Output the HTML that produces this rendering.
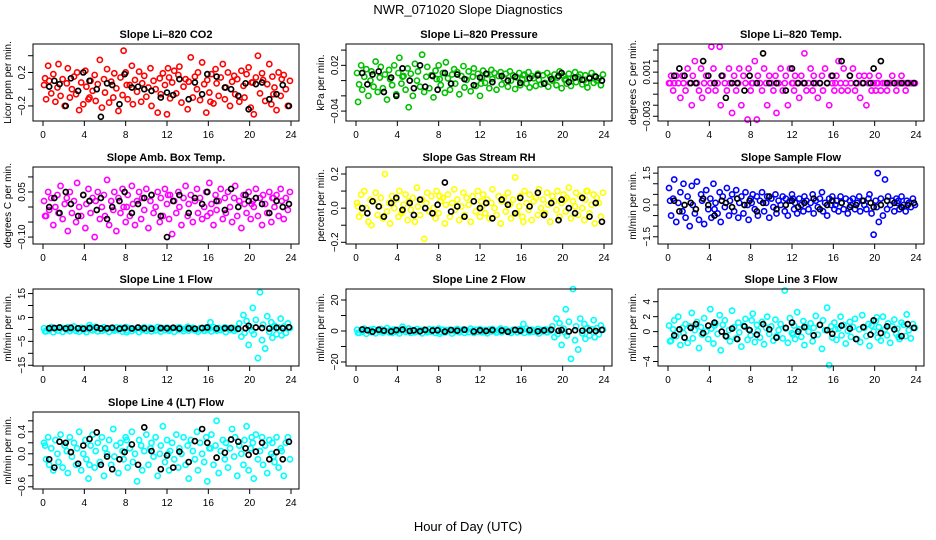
<!DOCTYPE html>
<html><head><meta charset="utf-8"><style>
body{margin:0;background:#fff}
svg{display:block;font-family:"Liberation Sans",sans-serif}
</style></head><body>
<svg id="chart" width="936" height="540" viewBox="0 0 936 540">
<text x="468" y="14" text-anchor="middle" font-size="13">NWR_071020  Slope Diagnostics</text>
<text x="468" y="531" text-anchor="middle" font-size="13">Hour of Day (UTC)</text>
</svg>
<script>
const hours=[0.1,0.3,0.5,0.6,0.8,1.0,1.2,1.4,1.5,1.7,1.9,2.1,2.3,2.4,2.6,2.8,3.0,3.2,3.3,3.5,3.7,3.9,4.1,4.2,4.4,4.6,4.8,5.0,5.1,5.3,5.5,5.7,5.9,6.0,6.2,6.4,6.6,6.8,6.9,7.1,7.3,7.5,7.7,7.8,8.0,8.2,8.4,8.6,8.7,8.9,9.1,9.3,9.5,9.6,9.8,10.0,10.2,10.4,10.5,10.7,10.9,11.1,11.3,11.4,11.6,11.8,12.0,12.2,12.3,12.5,12.7,12.9,13.1,13.2,13.4,13.6,13.8,14.0,14.1,14.3,14.5,14.7,14.9,15.0,15.2,15.4,15.6,15.8,15.9,16.1,16.3,16.5,16.7,16.8,17.0,17.2,17.4,17.6,17.7,17.9,18.1,18.3,18.5,18.6,18.8,19.0,19.2,19.4,19.5,19.7,19.9,20.1,20.3,20.4,20.6,20.8,21.0,21.2,21.3,21.5,21.7,21.9,22.1,22.2,22.4,22.6,22.8,23.0,23.1,23.3,23.5,23.7,23.9,0.2,4.5,8.1,12.1,16.2,20.2,22.3];
const calHours=[0.6,1.1,1.6,2.2,2.7,3.4,3.9,4.5,5.2,5.6,6.2,6.7,7.4,7.9,8.6,9.2,9.8,10.5,11.4,12.0,12.6,13.2,14.1,14.7,15.4,15.9,16.8,17.6,18.2,18.9,19.6,19.9,20.6,21.2,21.9,22.6,23.2,23.8];
const xTicks=[0,4,8,12,16,20,24];

const co2Vals=[0.05,-0.12,0.28,0.1,-0.05,0.18,-0.15,0.02,0.3,-0.08,0.12,-0.2,0.07,0.25,-0.1,0.0,0.15,-0.06,0.2,-0.25,0.08,-0.18,0.22,0.03,-0.12,0.1,-0.02,0.17,-0.14,0.06,0.35,-0.22,0.12,-0.04,0.24,-0.16,0.09,-0.1,0.19,0.01,-0.26,0.14,-0.07,0.46,0.2,-0.12,0.05,0.28,-0.18,0.11,-0.03,0.21,-0.15,0.07,0.16,-0.09,0.02,0.25,-0.2,0.1,0.0,-0.28,0.13,-0.06,0.19,0.05,-0.3,0.14,-0.11,0.08,0.22,-0.05,0.17,0.27,-0.16,0.03,0.12,-0.24,0.09,0.38,-0.1,0.15,0.0,0.2,-0.13,0.32,0.06,-0.28,0.11,-0.04,0.18,-0.17,0.24,0.07,-0.08,0.14,0.3,-0.12,0.02,0.2,-0.2,0.09,0.16,-0.06,0.12,-0.15,0.22,0.04,-0.1,0.18,0.26,-0.22,0.08,-0.3,0.14,0.4,-0.05,0.19,0.11,-0.14,0.06,0.3,-0.18,0.15,0.02,-0.25,0.2,-0.08,0.12,0.17,0.0,-0.2,0.1,0.13,-0.1,0.05,0.25,-0.15,0.08,-0.06];
const co2Cal=[0.03,0.1,0.06,-0.2,0.13,-0.02,0.2,0.1,0.0,-0.33,0.07,0.05,-0.18,0.18,0.02,0.03,0.0,-0.02,-0.1,-0.04,-0.07,0.12,-0.12,0.08,-0.06,0.18,0.15,0.02,0.0,-0.08,0.07,-0.24,0.06,0.08,-0.12,-0.06,0.05,-0.2];

const presVals=[0.01,-0.005,0.02,-0.012,0.005,0.015,-0.02,0.0,0.012,-0.008,0.025,-0.015,0.004,0.018,-0.01,0.008,-0.025,0.014,0.002,-0.006,0.02,-0.018,0.01,0.03,-0.004,0.006,-0.012,0.016,-0.035,0.009,-0.02,0.022,0.0,0.012,-0.008,0.034,-0.015,0.005,0.018,-0.01,0.007,-0.022,0.013,0.002,0.02,-0.006,0.01,-0.016,0.024,0.003,-0.012,0.008,0.015,-0.004,0.011,-0.018,0.006,0.019,-0.009,0.001,0.012,-0.014,0.005,0.016,-0.007,0.009,-0.02,0.004,0.013,-0.003,0.008,-0.01,0.014,0.002,0.01,-0.012,0.006,0.011,-0.005,0.003,0.009,-0.008,0.012,0.0,0.007,-0.011,0.004,0.01,-0.006,0.002,0.008,-0.004,0.011,-0.009,0.006,0.003,-0.007,0.009,0.001,-0.005,0.007,-0.003,0.01,-0.008,0.005,0.0,0.008,-0.006,0.004,0.012,-0.01,0.006,0.002,-0.004,0.009,-0.007,0.003,0.011,-0.002,0.005,0.008,-0.005,0.001,0.007,-0.009,0.004,0.01,-0.003,0.006,0.0,0.003,-0.006,0.008,-0.028,0.005,0.002,-0.004,0.007,0.001,-0.003];
const presCal=[0.01,-0.005,0.008,0.012,-0.015,0.004,-0.02,0.016,0.0,-0.01,0.02,-0.008,0.006,-0.012,0.01,-0.004,0.008,0.002,-0.006,0.004,0.009,-0.002,0.006,0.0,0.005,-0.003,0.003,0.007,-0.004,0.002,0.006,0.01,-0.002,0.004,0.001,0.003,0.005,0.0];

const tempVals=[0,.00067,-.00067,0,.00067,0,-.00133,.00067,0,-.00067,.00133,0,-.002,.00067,.002,0,-.00067,.00133,-.00133,0,.00067,-.00067,0,.0033,.00133,-.00067,0,.0033,-.002,.00067,0,-.00067,.00133,0,-.0027,.00067,-.00067,0,.00133,-.002,.00067,0,-.0033,.00133,-.00067,0,.002,-.0033,.00067,0,-.00067,.00133,0,-.002,.00067,0,-.00067,.00067,-.0027,0,.00133,-.00067,0,.00067,-.002,.00133,0,-.00067,.00067,0,-.00133,.00067,0,.0027,-.00067,0,.00133,-.00067,.00067,0,-.00133,0,.00067,-.00067,.00133,0,-.002,.00067,0,-.00067,.00067,.002,0,-.00067,.00133,0,-.00067,.00067,0,.00133,-.00067,0,.00067,-.00133,0,.00067,-.002,0,.00067,-.00067,0,-.00067,0,.00067,-.00067,0,0,-.00067,0,0,.00067,0,-.00067,0,0,.00067,0,-.00067,0,0,0,0,0,0,0,0,0,0,0,0];
const tempCal=[.00067,.00133,.00067,0,0,.002,.00067,0,.00067,-.00133,0,0,-.00067,.00067,0,.0027,0,0,-.00067,.00133,0,0,0,0,0,.00067,.002,.00067,0,0,0,.00133,.002,0,0,0,0,0];

const ambVals=[0.02,-0.03,0.05,-0.01,0.03,-0.06,0.0,0.04,-0.02,0.07,-0.04,0.01,0.03,-0.08,0.05,-0.02,0.02,-0.05,0.08,0.0,-0.03,0.04,-0.07,0.01,0.06,-0.02,0.03,-0.1,0.02,0.05,-0.04,0.0,0.04,-0.03,0.09,-0.06,0.02,-0.01,0.05,-0.08,0.03,-0.02,0.06,0.0,-0.05,0.04,-0.03,0.07,0.01,-0.06,0.02,0.05,-0.04,0.03,-0.01,0.06,-0.07,0.02,0.04,-0.02,0.0,0.05,-0.05,0.03,-0.03,0.06,0.01,-0.04,0.04,-0.09,0.02,-0.02,0.05,0.0,-0.06,0.03,0.07,-0.03,0.01,0.04,-0.05,0.02,0.06,-0.02,0.03,-0.04,0.0,0.05,-0.03,0.08,0.01,-0.06,0.04,-0.01,0.02,0.06,-0.04,0.03,-0.02,0.05,0.0,-0.05,0.03,0.07,-0.03,0.02,-0.07,0.04,0.01,-0.02,0.05,-0.04,0.02,0.0,0.06,-0.03,0.03,-0.06,0.04,0.01,-0.02,0.05,-0.05,0.03,0.0,0.04,-0.03,0.06,0.02,-0.04,0.03,-0.01,0.05,-0.03,0.02,0.0,0.04,-0.02,0.01,0.03];
const ambCal=[0.0,0.03,-0.02,0.05,0.01,-0.03,0.04,0.02,-0.01,0.03,-0.04,0.0,0.02,0.05,-0.02,0.01,0.03,0.04,-0.03,-0.1,0.02,0.04,-0.02,0.03,0.01,0.05,0.02,-0.01,0.06,0.0,0.04,0.02,0.03,0.01,-0.02,0.02,0.0,0.01];

const rhVals=[0.03,-0.05,0.08,-0.03,0.1,0.0,-0.08,0.05,-0.1,0.04,0.09,-0.04,0.01,0.06,-0.06,0.2,-0.02,0.03,-0.09,0.07,0.0,0.05,-0.05,0.1,-0.03,0.02,0.08,-0.07,0.04,-0.01,0.06,-0.08,0.12,0.01,-0.04,0.05,-0.18,0.03,0.09,-0.02,0.07,0.0,-0.06,0.1,-0.03,0.04,0.06,-0.09,0.02,0.08,-0.05,0.03,0.11,-0.01,0.05,-0.07,0.01,0.09,-0.04,0.06,0.02,-0.08,0.07,0.04,-0.02,0.1,-0.05,0.01,0.08,-0.03,0.05,-0.06,0.03,0.11,0.0,-0.04,0.07,-0.09,0.04,0.06,-0.02,0.09,0.02,-0.06,0.05,0.18,-0.03,0.01,0.07,-0.05,0.1,0.03,-0.01,0.08,-0.07,0.04,0.06,-0.04,0.11,0.0,0.05,-0.03,0.09,0.02,-0.08,0.07,0.04,-0.01,0.1,-0.05,0.03,0.08,-0.02,0.06,0.12,-0.06,0.04,0.01,0.09,-0.04,0.07,0.0,-0.07,0.05,0.1,-0.03,0.02,0.08,-0.09,0.06,0.03,-0.05,0.09,0.01,-0.02,0.07,0.04,-0.08,0.05,0.1];
const rhCal=[0.0,-0.03,0.04,0.01,-0.05,0.03,0.06,-0.01,0.03,-0.04,0.05,0.0,-0.03,0.02,0.15,-0.02,0.01,-0.05,0.04,0.0,0.03,-0.06,0.05,0.02,-0.03,0.06,0.01,0.09,-0.04,0.03,-0.07,0.05,0.0,-0.03,0.06,-0.05,0.03,-0.08];

const flowVals=[0.8,-0.5,0.3,1.2,-0.8,0.1,0.6,-0.3,1.0,-0.6,0.4,-1.0,0.9,0.0,-0.4,1.1,-0.7,0.5,0.2,-0.9,0.7,-0.2,0.3,-0.6,1.0,0.1,-0.4,0.6,-0.8,0.4,-0.1,0.8,-0.5,0.2,0.5,-0.3,0.7,-0.6,0.1,0.4,-0.4,0.6,0.0,-0.7,0.3,0.5,-0.2,0.4,-0.5,0.2,0.6,-0.3,0.1,0.4,-0.6,0.3,-0.1,0.5,-0.4,0.2,0.0,0.4,-0.3,0.3,-0.5,0.2,0.5,-0.2,0.1,-0.4,0.3,0.0,-0.3,0.4,0.2,-0.2,0.1,0.5,-0.4,0.2,-0.1,0.3,0.6,-0.3,0.1,-0.5,0.3,0.0,0.4,-0.2,0.2,-0.3,0.4,0.1,-0.2,0.3,-0.4,0.2,0.0,0.3,-0.2,0.1,0.4,-0.3,0.2,0.0,-0.2,0.3,0.5,-0.4,-1.4,0.2,1.5,-0.8,0.3,-0.5,1.2,-0.2,0.4,0.0,0.2,-0.3,0.3,0.1,-0.2,0.4,0.0,-0.3,0.2,0.1,-0.1,0.3,0.0,0.2,-0.2,0.1,0.3,0.0,-0.1,0.2];
const flowCal=[0.2,-0.3,0.0,0.1,-0.2,0.3,0.0,-0.5,0.2,0.1,-0.1,0.3,0.0,0.2,-0.3,0.1,0.4,-0.2,0.0,0.2,-0.1,0.1,0.3,-0.2,0.0,0.2,0.1,-0.1,0.0,0.2,0.1,-0.1,0.0,0.2,0.1,-0.1,0.0,0.1];

const l1Vals=[0.5,-0.8,0.3,-0.4,1.0,-1.2,0.2,0.6,-0.5,0.8,-1.0,0.4,-0.2,0.9,-0.7,0.1,1.2,-0.6,0.3,-0.9,0.7,-0.3,0.5,-1.1,0.2,0.8,-0.4,0.0,1.1,-0.8,0.4,-0.6,0.9,-0.2,0.3,-1.0,0.6,0.1,-0.5,0.8,-0.3,0.7,-0.9,0.2,1.0,-0.4,0.5,-0.7,0.3,0.0,0.6,-1.1,0.4,-0.2,0.9,-0.6,0.1,0.7,-0.8,0.3,-0.4,1.0,0.2,-0.9,0.5,-0.3,0.8,-0.6,0.0,0.4,-1.0,0.6,-0.2,0.9,0.1,-0.7,0.3,1.1,-0.5,0.2,0.7,-0.4,0.0,-0.9,0.5,0.3,-0.6,0.8,-0.2,0.4,-0.8,1.0,0.1,-0.5,0.6,-0.3,0.2,0.9,-1.1,0.4,-0.2,0.7,-0.6,0.3,0.0,2.5,-3.0,6.0,-1.5,3.5,-6.5,1.0,9.0,-2.0,4.0,-12.0,15.5,-4.5,2.0,-8.0,5.5,-1.0,3.0,-3.5,1.5,-2.0,0.8,4.5,-2.5,1.2,-1.5,2.5,0.6,-0.8,1.8,-1.2,0.5,3.0,-0.5,1.0];
const l1Cal=[0.5,0.6,0.8,0.4,0.7,0.5,0.3,0.6,0.8,0.4,0.5,0.7,0.3,0.6,0.4,0.8,0.5,0.3,0.6,0.5,0.7,0.4,0.5,0.3,0.6,0.8,0.4,0.5,0.6,0.3,0.5,1.5,0.8,0.6,0.4,0.7,0.5,0.9];

const l2Vals=[0.8,-1.2,0.4,-0.6,1.5,-1.8,0.3,0.9,-0.8,1.2,-1.5,0.6,-0.3,1.3,-1.0,0.2,1.8,-0.9,0.5,-1.3,1.0,-0.5,0.8,-1.6,0.3,1.2,-0.6,0.0,1.6,-1.2,0.6,-0.9,1.3,-0.3,0.5,-1.5,0.9,0.2,-0.8,1.2,-0.5,1.0,-1.3,0.3,1.5,-0.6,0.8,-1.0,0.5,0.0,0.9,-1.6,0.6,-0.3,1.3,-0.9,0.2,1.0,-1.2,0.5,-0.6,1.5,0.3,-1.3,0.8,-0.5,1.2,-0.9,0.0,0.6,-1.5,0.9,-0.3,1.3,0.2,-1.0,0.5,1.6,-0.8,0.3,1.0,-0.6,0.0,-1.3,0.8,0.5,-0.9,1.2,-0.3,0.6,-1.2,1.5,0.2,-0.8,0.9,-0.5,0.3,1.3,-1.6,0.6,-0.3,1.0,-0.9,0.5,0.0,3.0,-4.0,8.0,-2.0,5.0,-9.0,1.5,14.0,-3.0,6.0,-18.0,27.0,-6.0,3.0,-12.0,8.0,-1.5,4.5,-5.0,2.0,-3.0,1.2,7.0,-4.0,1.8,-2.2,3.5,0.9,-1.2,2.7,-1.8,0.8,4.5,-0.8,1.5];
const l2Cal=[1.0,0.5,-0.5,0.8,0.2,-0.3,0.6,0.9,0.0,0.4,-0.2,0.7,0.3,0.5,-0.4,0.6,0.2,0.8,-0.3,0.4,0.0,0.6,0.3,-0.5,0.7,0.2,0.5,-0.2,0.4,0.8,0.1,0.6,-0.3,0.5,0.2,0.4,0.0,0.7];

const l3Vals=[0.8,-1.2,0.3,1.5,-0.6,2.0,-1.8,0.5,-0.2,1.0,-1.5,0.7,2.5,-0.9,0.2,1.3,-2.2,0.6,-0.4,1.8,0.0,-1.0,3.0,0.4,-1.6,1.1,-0.3,2.2,-2.5,0.9,1.5,-0.7,0.2,-1.3,2.8,0.6,-0.9,1.2,-0.1,-2.0,0.8,1.7,-1.1,0.3,-0.5,2.4,-1.4,0.9,0.1,-0.8,1.3,-1.7,0.5,2.0,-0.3,0.7,-1.2,1.6,-0.6,0.2,1.0,-0.9,5.5,0.4,-1.5,1.8,-0.2,0.8,-1.0,2.6,0.3,-0.7,1.4,-1.8,0.6,0.0,1.1,-1.3,0.5,2.1,-0.4,0.9,-2.3,1.5,0.2,3.2,-4.5,0.7,-0.8,1.2,-1.1,0.4,2.0,-0.5,0.9,-1.6,0.1,1.3,-0.7,0.6,1.7,-1.0,0.3,-1.4,2.2,0.5,-0.6,1.0,-1.9,0.8,0.0,1.4,-0.8,0.6,-1.2,2.0,0.3,-0.5,1.1,-1.5,0.7,1.6,-0.3,0.4,-1.0,1.2,0.9,-0.6,2.3,0.2,-0.9,1.0,0.5,-1.3,0.8,1.5,-0.4,0.3,1.9,-0.7];
const l3Cal=[-0.5,0.3,-0.8,0.5,1.0,-0.2,0.8,1.2,0.0,-0.6,0.4,-1.0,0.7,0.2,-0.4,1.0,0.3,-0.8,0.5,1.2,0.0,0.6,-0.5,0.9,0.2,-0.3,0.8,0.4,-1.0,0.6,-0.4,1.5,-0.2,0.7,0.3,-0.6,1.0,0.5];

const l4Vals=[0.2,-0.1,0.3,-0.2,0.1,-0.3,0.25,0.0,-0.15,0.35,-0.25,0.15,0.05,-0.35,0.3,-0.05,0.2,-0.2,0.1,0.4,-0.3,0.0,0.25,-0.1,-0.45,0.15,0.35,-0.25,0.05,0.2,-0.15,0.3,-0.4,0.1,0.0,0.25,-0.2,0.45,-0.05,0.15,-0.35,0.2,0.05,-0.1,0.3,-0.25,0.1,0.4,-0.15,0.0,-0.5,0.25,0.15,-0.3,0.05,0.35,-0.2,0.1,0.2,-0.05,0.3,-0.4,0.0,0.15,0.5,-0.15,0.25,-0.3,0.05,0.2,-0.1,0.35,-0.25,0.1,0.0,0.3,-0.2,0.15,-0.45,0.25,0.05,-0.1,0.4,-0.3,0.2,0.0,-0.15,0.3,-0.5,0.1,0.35,-0.2,0.15,0.6,-0.35,0.05,0.25,-0.1,0.2,-0.25,0.1,0.45,-0.05,0.3,-0.4,0.15,0.0,-0.2,0.25,0.5,-0.3,0.1,0.2,-0.45,0.35,-0.1,0.05,0.3,-0.2,0.15,-0.35,0.25,0.0,0.2,-0.15,0.3,-0.25,0.1,0.05,-0.4,0.2,0.3,-0.1,0.15,-0.2,0.25,0.0,0.1,0.3,-0.05];
const l4Cal=[-0.1,-0.25,0.22,0.2,0.03,-0.18,0.15,0.27,0.39,-0.2,-0.05,-0.28,-0.1,0.03,0.17,-0.2,0.48,0.05,-0.28,-0.03,-0.25,0.04,-0.15,0.23,0.45,0.2,-0.07,0.02,0.26,0.22,0.1,-0.02,0.04,0.2,-0.1,0.03,-0.1,0.22];

const panelTitles=["Slope Li\u2013820 CO2","Slope Li\u2013820 Pressure","Slope Li\u2013820 Temp.","Slope Amb. Box Temp.","Slope Gas Stream RH","Slope Sample Flow","Slope Line 1 Flow","Slope Line 2 Flow","Slope Line 3 Flow","Slope Line 4 (LT) Flow"];
const yTitles=["Licor ppm per min.","kPa per min.","degrees C per min.","degrees C per min.","percent per min.","ml/min per min.","ml/min per min.","ml/min per min.","ml/min per min.","ml/min per min."];
const colors=["#ff0000","#00c000","#ff00ff","#ff00ff","#ffff00","#0000ff","#00ffff","#00ffff","#00ffff","#00ffff"];
const series=[co2Vals,presVals,tempVals,ambVals,rhVals,flowVals,l1Vals,l2Vals,l3Vals,l4Vals];
const calSeries=[co2Cal,presCal,tempCal,ambCal,rhCal,flowCal,l1Cal,l2Cal,l3Cal,l4Cal];
const yRanges=[[-0.38,0.54],[-0.053,0.048],[-0.00343,0.00355],[-0.123,0.133],[-0.21,0.241],[-1.84,1.79],[-15.3,16.9],[-22.6,27.1],[-4.6,5.7],[-0.64,0.76]];
const yTicks=[[-0.2,0,0.2,0.4],[-0.04,-0.02,0,0.02,0.04],[-0.003,-0.002,-0.001,0,0.001,0.002,0.003],[-0.1,-0.05,0,0.05,0.1],[-0.2,-0.1,0,0.1,0.2],[-1.5,-1,-0.5,0,0.5,1,1.5],[-15,-10,-5,0,5,10,15],[-20,-10,0,10,20],[-4,-2,0,2,4],[-0.6,-0.4,-0.2,0,0.2,0.4,0.6]];
const yLabels=[{"-0.2":"\u22120.2","0.2":"0.2"},{"-0.04":"\u22120.04","0.02":"0.02"},{"-0.003":"\u22120.003","0.001":"0.001"},{"-0.1":"\u22120.10","0.05":"0.05"},{"-0.2":"\u22120.2","0":"0.0","0.2":"0.2"},{"-1.5":"\u22121.5","0":"0.0","1.5":"1.5"},{"-15":"\u221215","-5":"\u22125","5":"5","15":"15"},{"-20":"\u221220","0":"0","20":"20"},{"-4":"\u22124","0":"0","2":"2","4":"4"},{"-0.6":"\u22120.6","0":"0.0","0.4":"0.4"}];

const NS="http://www.w3.org/2000/svg";
const svg=document.getElementById('chart');
const colX=[33,346,658], rowY=[44,167,289,412], W=266, H=77;
function mk(tag,attrs,parent){const e=document.createElementNS(NS,tag);for(const k in attrs)e.setAttribute(k,attrs[k]);parent.appendChild(e);return e;}

for(let p=0;p<10;p++){
  const bx=colX[p%3], by=rowY[Math.floor(p/3)];
  const g=mk('g',{},svg);
  
  
  const [ymin,ymax]=yRanges[p];
  const xs=h=>bx+10+h/24*248;
  const ys=v=>by+H-(v-ymin)/(ymax-ymin)*H;
  const t=mk('text',{x:bx+W/2,y:by-6,'text-anchor':'middle','font-size':11,'font-weight':'bold'},g);
  t.textContent=panelTitles[p];
  
  
  const yt=mk('text',{x:0,y:0,'text-anchor':'middle','font-size':10,transform:`translate(${bx-22},${by+H/2}) rotate(-90)`},g);
  yt.textContent=yTitles[p];
  
  
  const vals=series[p];
  const n=Math.min(vals.length,hours.length);
  for(let i=0;i<n;i++){
    const c=mk('circle',{cx:xs(hours[i]),cy:ys(vals[i]),r:2.6,fill:'none',stroke:colors[p],'stroke-width':1.6},g);
    
    
  }
  const cv=calSeries[p];
  const m=Math.min(cv.length,calHours.length);
  for(let i=0;i<m;i++){
    const c=mk('circle',{cx:xs(calHours[i]),cy:ys(cv[i]),r:2.5,fill:'none',stroke:'#000','stroke-width':1.7},g);
    
    
  }
  const box=mk('rect',{x:bx,y:by,width:W,height:H,fill:'none',stroke:'#000','stroke-width':1},g);
  
  
  xTicks.forEach(v=>{
    const x=xs(v);
    mk('line',{x1:x,x2:x,y1:by+H,y2:by+H+5,stroke:'#000'},g);
    const tl=mk('text',{x:x,y:by+H+17,'text-anchor':'middle','font-size':10},g);
    tl.textContent=v;
    
    
  });
  yTicks[p].forEach(v=>{
    const y=ys(v);
    if(y<by-1||y>by+H+1)return;
    mk('line',{x1:bx-5,x2:bx,y1:y,y2:y,stroke:'#000'},g);
    const lab=yLabels[p][String(v)];
    if(lab!==undefined){
      const tl=mk('text',{x:0,y:0,'text-anchor':'middle','font-size':10,transform:`translate(${bx-8},${y}) rotate(-90)`},g);
      tl.textContent=lab;
      
      
    }
  });
}
</script>
</body></html>
